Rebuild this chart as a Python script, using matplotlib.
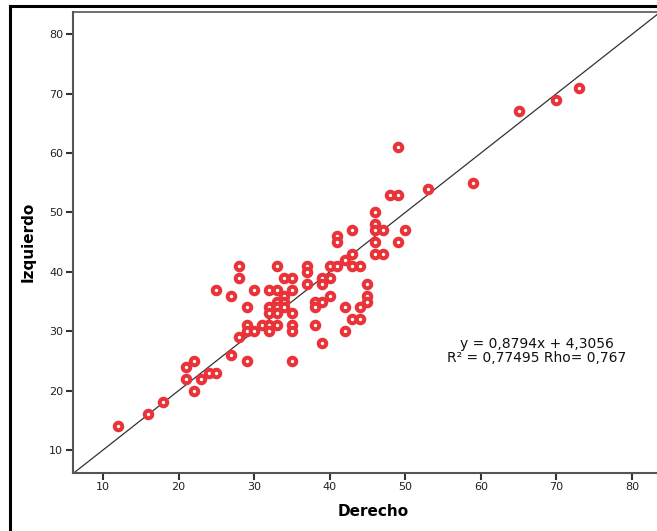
import matplotlib.pyplot as plt
from matplotlib.lines import Line2D

# Derecho (x) / Izquierdo (y) values
derecho = [12, 16, 18, 21, 21, 22, 22, 23, 24, 25,
           25, 27, 27, 28, 28, 28, 29, 29, 29, 29,
           30, 30, 31, 32, 32, 32, 32, 32,
           33, 33, 33, 33, 33, 33,
           34, 34, 34, 34,
           35, 35, 35, 35, 35, 35,
           37, 37, 37,
           38, 38, 38,
           39, 39, 39, 39,
           40, 40, 40,
           41, 41, 41,
           42, 42, 42,
           43, 43, 43, 43,
           44, 44, 44,
           45, 45, 45,
           46, 46, 46, 46, 46,
           47, 47,
           48, 49, 49, 49, 50, 53, 59, 65, 70, 73]
izquierdo = [14, 16, 18, 22, 24, 20, 25, 22, 23, 23,
             37, 36, 26, 41, 39, 29, 34, 31, 30, 25,
             37, 30, 31, 37, 34, 33, 31, 30,
             41, 37, 35, 34, 33, 31,
             39, 36, 35, 34,
             39, 37, 33, 31, 30, 25,
             41, 40, 38,
             35, 34, 31,
             39, 38, 35, 28,
             41, 39, 36,
             41, 46, 45,
             42, 34, 30,
             43, 41, 47, 32,
             41, 34, 32,
             38, 36, 35,
             50, 48, 47, 45, 43,
             47, 43,
             53, 53, 61, 45, 47, 54, 55, 67, 69, 71]

ticks = [10, 20, 30, 40, 50, 60, 70, 80]
equation = "y = 0,8794x + 4,3056"
stats = "R² = 0,77495 Rho= 0,767"

fig = plt.figure(figsize=(6.57, 5.31), dpi=100)
ax = fig.add_axes([73 / 657, 1 - 472.7 / 531, 600 / 657, (472.7 - 12) / 531])

# identity reference line
ax.axline((0, 0), slope=1, color='#333333', linewidth=0.9, zorder=1)

ax.plot(derecho, izquierdo, linestyle='none', marker='o',
        markersize=5.4, markerfacecolor='white',
        markeredgecolor='#ea3338', markeredgewidth=2.9, zorder=2)

xmin = 10 - 30 / 7.557
xmax = xmin + 600 / 7.557
ymin = 10 - 22.7 / 5.94
ymax = 80 + 22.3 / 5.94
ax.set_xlim(xmin, xmax)
ax.set_ylim(ymin, ymax)
ax.set_xticks(ticks)
ax.set_yticks(ticks)

for side in ['left', 'bottom', 'top']:
    ax.spines[side].set_color('#555555')
    ax.spines[side].set_linewidth(1.5)
ax.spines['top'].set_linewidth(1.2)
ax.spines['right'].set_visible(False)

ax.tick_params(direction='out', length=5, width=1.5, color='#333333',
               labelsize=8, labelcolor='#222222', pad=2)

ax.set_xlabel('Derecho', fontsize=11, fontweight='bold', labelpad=8)
ax.set_ylabel('Izquierdo', fontsize=11, fontweight='bold', labelpad=10)

ax.text(67.4, 27.85, equation, fontsize=10, ha='center', va='center', color='#111111')
ax.text(67.4, 25.5, stats, fontsize=10, ha='center', va='center', color='#111111')

# outer black frame of the original export
fig.add_artist(Line2D([10 / 657, 10 / 657], [0, 1 - 5.5 / 531],
                      transform=fig.transFigure, color='black', linewidth=2.2))
fig.add_artist(Line2D([10 / 657, 1], [1 - 5.5 / 531, 1 - 5.5 / 531],
                      transform=fig.transFigure, color='black', linewidth=2.2))

fig.savefig('out.png', dpi=100)
plt.close(fig)
